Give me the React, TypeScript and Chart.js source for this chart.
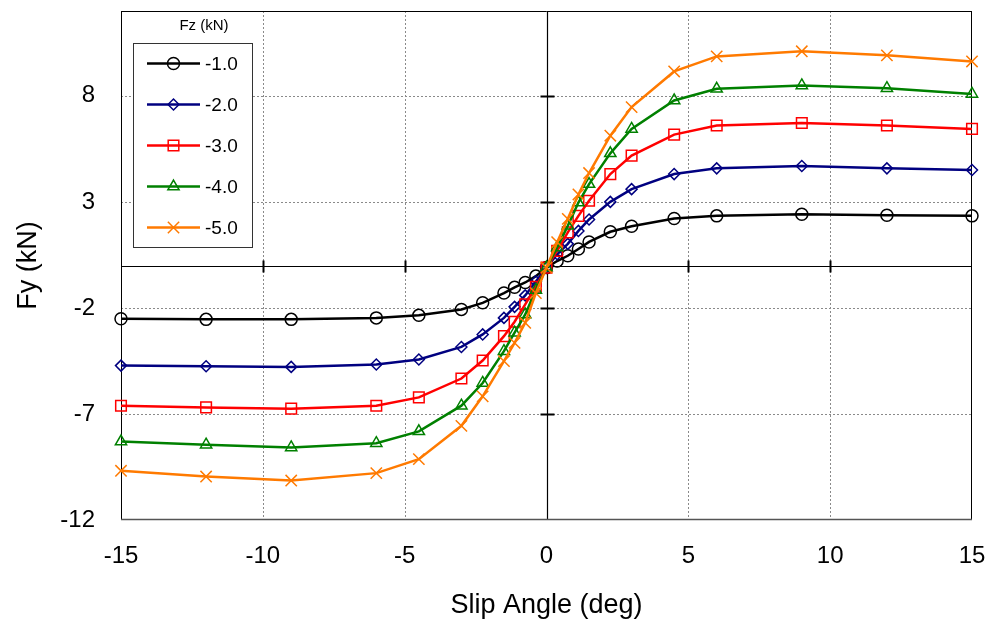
import React, { useEffect, useRef } from 'react';
import { Chart, registerables } from 'chart.js';

Chart.register(...registerables);

const FONT = "'Liberation Sans', Arial, Helvetica, sans-serif";

// Slip angle (deg)
const slipAngles = [-15, -12, -9, -6, -4.5, -3, -2.25, -1.5, -1.125, -0.75, -0.375, 0, 0.375, 0.75, 1.125, 1.5, 2.25, 3, 4.5, 6, 9, 12, 15];

// Fy (kN) for each Fz
const fyFz1 = [-2.51, -2.54, -2.54, -2.47, -2.35, -2.07, -1.76, -1.3, -1.03, -0.8, -0.5, -0.1, 0.21, 0.46, 0.78, 1.11, 1.59, 1.85, 2.22, 2.34, 2.42, 2.37, 2.34];
const fyFz2 = [-4.72, -4.75, -4.78, -4.67, -4.43, -3.84, -3.25, -2.47, -1.95, -1.41, -0.75, -0.1, 0.53, 1.02, 1.63, 2.17, 3.0, 3.6, 4.31, 4.58, 4.69, 4.58, 4.5];
const fyFz3 = [-6.61, -6.69, -6.75, -6.61, -6.22, -5.33, -4.48, -3.33, -2.65, -1.83, -1.0, -0.1, 0.69, 1.56, 2.34, 3.05, 4.31, 5.18, 6.17, 6.6, 6.72, 6.6, 6.44];
const fyFz4 = [-8.3, -8.45, -8.58, -8.38, -7.82, -6.61, -5.54, -4.04, -3.17, -2.31, -1.15, -0.1, 0.85, 1.87, 2.97, 3.84, 5.29, 6.44, 7.78, 8.33, 8.49, 8.36, 8.09];
const fyFz5 = [-9.68, -9.95, -10.14, -9.79, -9.13, -7.56, -6.17, -4.51, -3.65, -2.7, -1.3, -0.1, 1.1, 2.2, 3.35, 4.36, 6.12, 7.47, 9.15, 9.86, 10.1, 9.91, 9.62];

const seriesLabels = ['-1.0', '-2.0', '-3.0', '-4.0', '-5.0'];
const seriesValues = [fyFz1, fyFz2, fyFz3, fyFz4, fyFz5];
const seriesColors = ['#000000', '#000080', '#ff0000', '#008000', '#ff7a00'];
const seriesMarkers = ['circle', 'rectRot', 'rect', 'triangle', 'crossRot'];
const markerSizes = [6, 5.5, 7.5, 6.5, 8];

const xTicks = [-15, -10, -5, 0, 5, 10, 15];
const yTicks = [-12, -7, -2, 3, 8];
const legendTitle = 'Fz (kN)';
const xTitle = 'Slip Angle (deg)';
const yTitle = 'Fy (kN)';

function drawMarker(ctx: CanvasRenderingContext2D, style: string, x: number, y: number, r: number) {
  ctx.beginPath();
  const q = Math.PI / 4;
  if (style === 'circle') {
    ctx.arc(x, y, r, 0, Math.PI * 2);
  } else if (style === 'rectRot') {
    ctx.moveTo(x - r, y);
    ctx.lineTo(x, y - r);
    ctx.lineTo(x + r, y);
    ctx.lineTo(x, y + r);
    ctx.closePath();
  } else if (style === 'rect') {
    const s = Math.SQRT1_2 * r;
    ctx.rect(x - s, y - s, 2 * s, 2 * s);
  } else if (style === 'triangle') {
    let rad = 0;
    ctx.moveTo(x + Math.sin(rad) * r, y - Math.cos(rad) * r);
    rad += (2 * Math.PI) / 3;
    ctx.lineTo(x + Math.sin(rad) * r, y - Math.cos(rad) * r);
    rad += (2 * Math.PI) / 3;
    ctx.lineTo(x + Math.sin(rad) * r, y - Math.cos(rad) * r);
    ctx.closePath();
  } else if (style === 'crossRot') {
    const o = Math.cos(q) * r;
    ctx.moveTo(x - o, y - o);
    ctx.lineTo(x + o, y + o);
    ctx.moveTo(x - o, y + o);
    ctx.lineTo(x + o, y - o);
  }
  ctx.stroke();
}

const framePlugin = {
  id: 'frameGrid',
  beforeDatasetsDraw(chart: any) {
    const { ctx, chartArea: a, scales } = chart;
    const x = scales.x;
    const y = scales.y;
    const line = (x1: number, y1: number, x2: number, y2: number) => {
      ctx.beginPath();
      ctx.moveTo(x1, y1);
      ctx.lineTo(x2, y2);
      ctx.stroke();
    };
    ctx.save();
    // dotted grid
    ctx.strokeStyle = '#8a8a8a';
    ctx.lineWidth = 1;
    ctx.setLineDash([2, 2]);
    for (const v of xTicks) {
      if (v === 0 || v <= x.min || v >= x.max) continue;
      const px = Math.round(x.getPixelForValue(v)) + 0.5;
      line(px, a.top, px, a.bottom);
    }
    for (const v of yTicks) {
      if (v === 0 || v <= y.min || v >= y.max) continue;
      const py = Math.round(y.getPixelForValue(v)) + 0.5;
      line(a.left, py, a.right, py);
    }
    ctx.setLineDash([]);
    // zero axes
    const x0 = Math.round(x.getPixelForValue(0)) + 0.5;
    const y0 = Math.round(y.getPixelForValue(0)) + 0.5;
    ctx.strokeStyle = '#000';
    ctx.lineWidth = 1.2;
    line(x0, a.top, x0, a.bottom);
    line(a.left, y0, a.right, y0);
    // tick marks on zero axes
    ctx.lineWidth = 2;
    for (const v of yTicks) {
      if (v <= y.min || v >= y.max) continue;
      const py = Math.round(y.getPixelForValue(v)) + 0.5;
      line(x0 - 7, py, x0 + 7, py);
    }
    for (const v of xTicks) {
      if (v === 0 || v <= x.min || v >= x.max) continue;
      const px = Math.round(x.getPixelForValue(v)) + 0.5;
      line(px, y0 - 6, px, y0 + 6);
    }
    // frame
    ctx.lineWidth = 1;
    ctx.strokeStyle = '#000';
    line(a.left + 0.5, a.top + 0.5, a.right - 0.5, a.top + 0.5);
    line(a.left + 0.5, a.top, a.left + 0.5, a.bottom);
    line(a.right - 0.5, a.top, a.right - 0.5, a.bottom);
    ctx.strokeStyle = '#555';
    ctx.lineWidth = 1.5;
    line(a.left, a.bottom - 0.5, a.right, a.bottom - 0.5);
    ctx.restore();
  },
};

const legendPlugin = {
  id: 'boxLegend',
  afterDatasetsDraw(chart: any) {
    const { ctx, chartArea: a } = chart;
    const bx = a.left + 12;
    const by = a.top + 32;
    const bw = 119;
    const bh = 204;
    ctx.save();
    ctx.fillStyle = '#ffffff';
    ctx.fillRect(bx, by, bw, bh);
    ctx.strokeStyle = '#333';
    ctx.lineWidth = 1;
    ctx.strokeRect(bx + 0.5, by + 0.5, bw, bh);
    ctx.fillStyle = '#000';
    ctx.font = `15px ${FONT}`;
    ctx.textAlign = 'center';
    ctx.textBaseline = 'middle';
    ctx.fillText(legendTitle, a.left + 83, a.top + 15);
    chart.data.datasets.forEach((ds: any, i: number) => {
      const cy = by + 20.5 + i * 41;
      ctx.strokeStyle = ds.borderColor;
      ctx.lineWidth = 2.5;
      ctx.beginPath();
      ctx.moveTo(bx + 14, cy);
      ctx.lineTo(bx + 67, cy);
      ctx.stroke();
      ctx.lineWidth = 1.5;
      drawMarker(ctx, ds.pointStyle, bx + 40.5, cy, ds.pointRadius);
      ctx.fillStyle = '#000';
      ctx.font = `19px ${FONT}`;
      ctx.textAlign = 'left';
      ctx.textBaseline = 'middle';
      ctx.fillText(ds.label, bx + 72, cy + 1);
    });
    ctx.restore();
  },
};

export default function App() {
  const canvasRef = useRef<HTMLCanvasElement | null>(null);

  useEffect(() => {
    const canvas = canvasRef.current;
    if (!canvas) return;
    const datasets = seriesLabels.map((label, i) => ({
      label,
      data: slipAngles.map((xv, j) => ({ x: xv, y: seriesValues[i][j] })),
      borderColor: seriesColors[i],
      backgroundColor: 'transparent',
      borderWidth: 2.5,
      pointStyle: seriesMarkers[i],
      pointRadius: markerSizes[i],
      pointBorderWidth: 1.5,
      pointBorderColor: seriesColors[i],
      pointBackgroundColor: 'transparent',
      tension: 0,
      clip: false as any,
      order: seriesLabels.length - i,
    }));

    const chart = new Chart(canvas, {
      type: 'line',
      data: { datasets },
      plugins: [framePlugin, legendPlugin],
      options: {
        animation: false,
        responsive: false,
        devicePixelRatio: 1,
        layout: { padding: { top: 11, right: 18, left: 0, bottom: 0 } },
        plugins: {
          legend: { display: false },
          tooltip: { enabled: false },
        },
        scales: {
          x: {
            type: 'linear',
            min: -15,
            max: 15,
            grid: { display: false },
            border: { display: false },
            afterBuildTicks: (scale: any) => {
              scale.ticks = xTicks.map((v) => ({ value: v }));
            },
            afterFit: (scale: any) => {
              scale.height = 105;
              scale.paddingLeft = 0;
              scale.paddingRight = 0;
            },
            ticks: {
              color: '#000',
              font: { family: FONT, size: 24 },
              padding: 14,
              maxRotation: 0,
              autoSkip: false,
            },
            title: {
              display: true,
              text: xTitle,
              color: '#000',
              font: { family: FONT, size: 27 },
              padding: { top: 0, bottom: 3 },
            },
          },
          y: {
            type: 'linear',
            min: -12,
            max: 12,
            grid: { display: false },
            border: { display: false },
            afterBuildTicks: (scale: any) => {
              scale.ticks = yTicks.map((v) => ({ value: v }));
            },
            afterFit: (scale: any) => {
              scale.width = 121;
              scale.paddingTop = 0;
              scale.paddingBottom = 0;
            },
            ticks: {
              color: '#000',
              font: { family: FONT, size: 24 },
              padding: 18,
              autoSkip: false,
            },
            title: {
              display: true,
              text: yTitle,
              color: '#000',
              font: { family: FONT, size: 27 },
              padding: { top: 12, bottom: 0 },
            },
          },
        },
      },
    } as any);

    return () => {
      chart.destroy();
    };
  }, []);

  return (
    <div style={{ position: 'fixed', left: 0, top: 0, width: 990, height: 625, background: '#fff' }}>
      <canvas ref={canvasRef} width={990} height={625} style={{ display: 'block', width: 990, height: 625 }} />
    </div>
  );
}
